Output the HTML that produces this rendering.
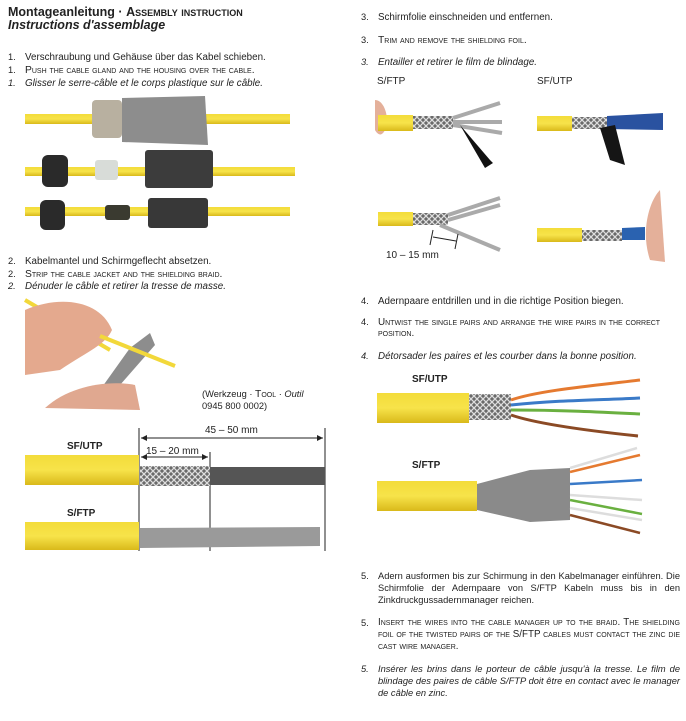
<!DOCTYPE html>
<html><head><meta charset="utf-8"><style>
body{margin:0;width:686px;height:721px;background:#fff;position:relative;overflow:hidden;font-family:"Liberation Sans",sans-serif;color:#222;}
.t{position:absolute;font-size:9.3px;white-space:nowrap;line-height:11px;}
.sc{font-variant:small-caps;font-size:10.3px;}
.i{font-style:italic;}
.n{position:absolute;font-size:9.3px;line-height:11px;}
.lbl{position:absolute;font-size:10px;font-weight:bold;}
.p{position:absolute;font-size:9.3px;line-height:12px;width:302px;text-align:justify;}
svg{position:absolute;left:0;top:0;}
</style></head><body>
<svg width="686" height="721">
<defs>
<pattern id="br" width="6" height="6" patternUnits="userSpaceOnUse"><rect width="6" height="6" fill="#6a6a6a"/><path d="M0 0L6 6M6 0L0 6" stroke="#ddd" stroke-width="1.3"/></pattern>
<linearGradient id="yl" x1="0" y1="0" x2="0" y2="1"><stop offset="0" stop-color="#f3dc3a"/><stop offset=".5" stop-color="#f7e34a"/><stop offset="1" stop-color="#d9b91a"/></linearGradient>
</defs>
<rect x="25" y="114" width="265" height="10" fill="url(#yl)"/>
<rect x="92" y="100" width="30" height="38" rx="4" fill="#b8b0a0"/>
<path d="M122 98 L205 96 L208 145 L122 142Z" fill="#8d8d8d"/>
<rect x="25" y="167" width="270" height="9" fill="url(#yl)"/>
<rect x="42" y="155" width="26" height="32" rx="6" fill="#2a2a2a"/>
<rect x="95" y="160" width="23" height="20" rx="3" fill="#d8dcd8"/>
<rect x="145" y="150" width="68" height="38" rx="3" fill="#3c3c3c"/>
<rect x="25" y="207" width="265" height="9" fill="url(#yl)"/>
<rect x="40" y="200" width="25" height="30" rx="6" fill="#2a2a2a"/>
<rect x="105" y="205" width="25" height="15" rx="3" fill="#3a3a30"/>
<rect x="148" y="198" width="60" height="30" rx="3" fill="#383838"/>
<path d="M25 300 L110 350" stroke="#f2d83a" stroke-width="4"/>
<path d="M25 310 C60 295 100 300 112 330 C105 345 90 350 60 370 L25 375Z" fill="#e4a98e"/>
<path d="M130 348 L150 333 L155 345 L120 385 L100 390Z" fill="#8d8d8d"/>
<path d="M100 336 L175 366" stroke="#f2d83a" stroke-width="4"/>
<path d="M45 408 C70 385 110 380 135 385 L140 410Z" fill="#e0a890"/>
<g stroke="#222" stroke-width="1" fill="none">
<line x1="139" y1="428" x2="139" y2="551"/><line x1="210" y1="452" x2="210" y2="551"/><line x1="325" y1="428" x2="325" y2="551"/>
<line x1="141" y1="438" x2="323" y2="438"/><line x1="141" y1="457" x2="208" y2="457"/>
</g>
<path d="M141 438l6-3v6zM323 438l-6-3v6zM141 457l6-3v6zM208 457l-6-3v6z" fill="#222"/>
<rect x="25" y="455" width="114" height="30" fill="url(#yl)"/>
<rect x="140" y="466" width="70" height="20" fill="url(#br)"/>
<rect x="210" y="467" width="115" height="18" fill="#555"/>
<rect x="25" y="522" width="114" height="28" fill="url(#yl)"/>
<path d="M140 528 L320 527 L320 546 L140 548Z" fill="#9a9a9a"/>
<path d="M375 100 C385 100 390 120 385 130 C380 140 375 130 375 130Z" fill="#e4b09a"/>
<rect x="378" y="115" width="35" height="16" fill="url(#yl)"/>
<rect x="413" y="116" width="40" height="13" fill="url(#br)"/>
<path d="M453 118 L500 103 M453 122 L502 122 M453 125 L502 133" stroke="#aaa" stroke-width="4"/>
<path d="M460 125 L490 160 L493 163 L485 168 Z" fill="#111"/>
<rect x="537" y="116" width="35" height="15" fill="url(#yl)"/>
<rect x="572" y="117" width="35" height="12" fill="url(#br)"/>
<path d="M607 116 L663 113 L663 130 L607 129Z" fill="#2a52a0"/>
<path d="M600 128 L610 160 L625 165 L615 125Z" fill="#151515"/>
<rect x="378" y="212" width="35" height="14" fill="url(#yl)"/>
<rect x="413" y="213" width="35" height="12" fill="url(#br)"/>
<path d="M448 215 L500 198 M448 220 L500 205 M440 225 L500 250" stroke="#aaa" stroke-width="4"/>
<g stroke="#222"><line x1="433" y1="230" x2="430" y2="245"/><line x1="458" y1="234" x2="455" y2="249"/><line x1="433" y1="237" x2="456" y2="241"/></g>
<rect x="537" y="228" width="45" height="14" fill="url(#yl)"/>
<rect x="582" y="230" width="40" height="11" fill="url(#br)"/>
<path d="M622 228 L645 227 L645 240 L622 240Z" fill="#2a62b0"/>
<path d="M660 190 C650 200 640 230 650 260 L665 262Z" fill="#e4b09a"/>
<rect x="377" y="393" width="92" height="30" fill="url(#yl)"/>
<rect x="469" y="394" width="42" height="26" fill="url(#br)"/>
<g fill="none" stroke-width="3">
<path d="M511 400 C540 390 600 385 640 380" stroke="#e57a30"/>
<path d="M511 405 C560 400 600 400 640 398" stroke="#3a7ac8"/>
<path d="M511 410 C560 410 600 412 640 414" stroke="#6ab040"/>
<path d="M511 415 C540 425 600 432 638 436" stroke="#8b4a25"/>
</g>
<rect x="377" y="481" width="100" height="30" fill="url(#yl)"/>
<path d="M477 484 L530 470 L570 468 L570 520 L530 522 L477 510Z" fill="#8a8a8a"/>
<g fill="none" stroke-width="2.5">
<path d="M570 468 L637 448" stroke="#ddd"/><path d="M570 472 L640 455" stroke="#e57a30"/>
<path d="M570 484 L642 480" stroke="#3a7ac8"/><path d="M570 495 L642 500" stroke="#ddd"/>
<path d="M570 500 L642 514" stroke="#6ab040"/><path d="M570 508 L642 520" stroke="#ddd"/>
<path d="M570 515 L640 533" stroke="#8b4a25"/>
</g>
</svg>

<div class="t" style="left:8px;top:6px;font-size:12.5px;font-weight:bold;line-height:13px">Montageanleitung · <span style="font-variant:small-caps">Assembly instruction</span></div>
<div class="t" style="left:8px;top:19px;font-size:12.5px;font-weight:bold;font-style:italic;line-height:13px">Instructions d'assemblage</div>

<div class="n" style="left:8px;top:52px">1.</div><div class="t" style="left:25px;top:52px;font-size:9.8px">Verschraubung und Gehäuse über das Kabel schieben.</div>
<div class="n" style="left:8px;top:65px">1.</div><div class="t sc" style="left:25px;top:65px">Push the cable gland and the housing over the cable.</div>
<div class="n i" style="left:8px;top:78px">1.</div><div class="t i" style="left:25px;top:78px;font-size:9.8px">Glisser le serre-câble et le corps plastique sur le câble.</div>

<div class="n" style="left:8px;top:256px">2.</div><div class="t" style="left:25px;top:256px;font-size:9.8px">Kabelmantel und Schirmgeflecht absetzen.</div>
<div class="n" style="left:8px;top:269px">2.</div><div class="t sc" style="left:25px;top:269px">Strip the cable jacket and the shielding braid.</div>
<div class="n i" style="left:8px;top:281px">2.</div><div class="t i" style="left:25px;top:281px;font-size:9.8px">Dénuder le câble et retirer la tresse de masse.</div>

<div class="t" style="left:202px;top:389px">(Werkzeug · <span class="sc">Tool</span> · <i>Outil</i></div>
<div class="t" style="left:202px;top:401px">0945 800 0002)</div>
<div class="t" style="left:205px;top:425px;font-size:10px">45 – 50 mm</div>
<div class="t" style="left:146px;top:446px;font-size:10px">15 – 20 mm</div>
<div class="lbl" style="left:67px;top:441px">SF/UTP</div>
<div class="lbl" style="left:67px;top:508px">S/FTP</div>

<div class="n" style="left:361px;top:12px">3.</div><div class="t" style="left:378px;top:12px;font-size:9.8px">Schirmfolie einschneiden und entfernen.</div>
<div class="n" style="left:361px;top:35px">3.</div><div class="t sc" style="left:378px;top:35px">Trim and remove the shielding foil.</div>
<div class="n i" style="left:361px;top:57px">3.</div><div class="t i" style="left:378px;top:57px;font-size:9.8px">Entailler et retirer le film de blindage.</div>
<div class="t" style="left:377px;top:76px;font-size:10px">S/FTP</div>
<div class="t" style="left:537px;top:76px;font-size:10px">SF/UTP</div>
<div class="t" style="left:386px;top:250px;font-size:10px">10 – 15 mm</div>

<div class="n" style="left:361px;top:296px">4.</div><div class="t" style="left:378px;top:296px;font-size:9.8px">Adernpaare entdrillen und in die richtige Position biegen.</div>
<div class="n" style="left:361px;top:317px">4.</div><div class="t sc" style="left:378px;top:317px;font-size:9.9px">Untwist the single pairs and arrange the wire pairs in the correct<br>position.</div>
<div class="n i" style="left:361px;top:351px">4.</div><div class="t i" style="left:378px;top:351px;font-size:9.8px">Détorsader les paires et les courber dans la bonne position.</div>
<div class="lbl" style="left:412px;top:374px">SF/UTP</div>
<div class="lbl" style="left:412px;top:460px">S/FTP</div>

<div class="n" style="left:361px;top:571px">5.</div><div class="p" style="left:378px;top:570px">Adern ausformen bis zur Schirmung in den Kabelmanager einführen. Die Schirmfolie der Adernpaare von S/FTP Kabeln muss bis in den Zinkdruckgussadernmanager reichen.</div>
<div class="n" style="left:361px;top:618px">5.</div><div class="p sc" style="left:378px;top:617px;font-size:9.8px">Insert the wires into the cable manager up to the braid. The shielding foil of the twisted pairs of the S/FTP cables must contact the zinc die cast wire manager.</div>
<div class="n i" style="left:361px;top:664px">5.</div><div class="p i" style="left:378px;top:663px">Insérer les brins dans le porteur de câble jusqu'à la tresse. Le film de blindage des paires de câble S/FTP doit être en contact avec le manager de câble en zinc.</div>
</body></html>
